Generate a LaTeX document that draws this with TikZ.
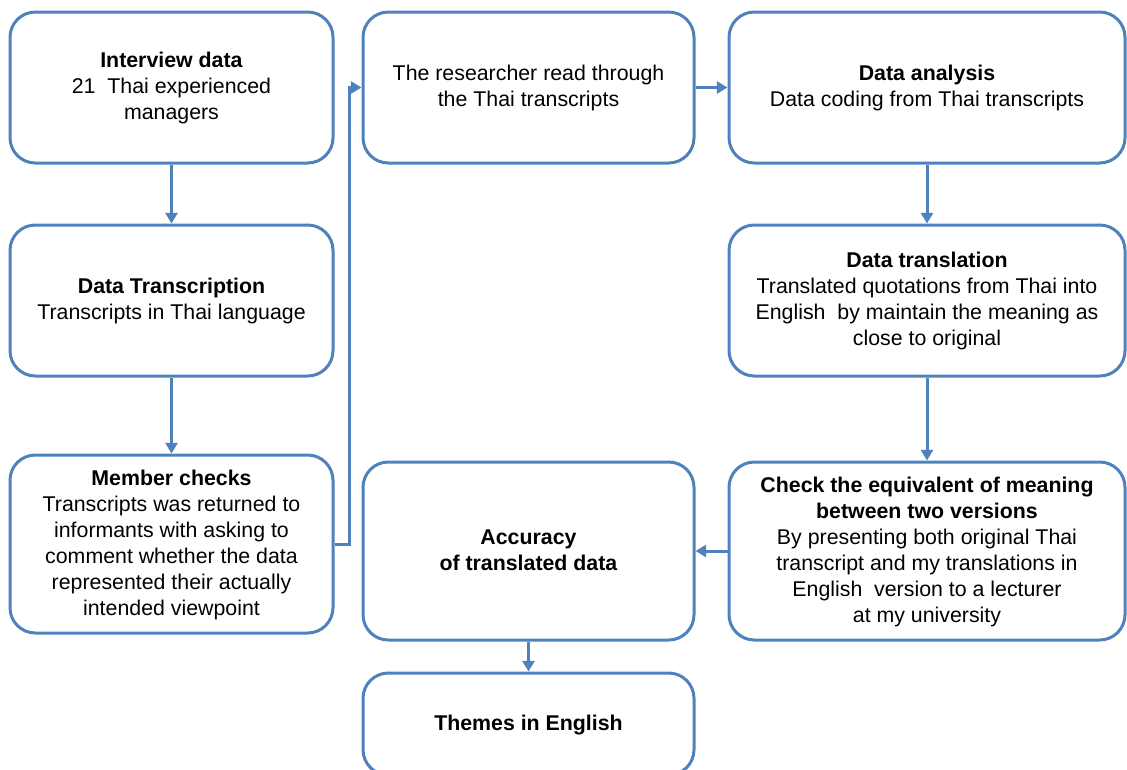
\documentclass[tikz,border=0pt]{standalone}
\usepackage{fontspec}
\setmainfont{Liberation Sans}
\usetikzlibrary{arrows.meta}
\definecolor{lineblue}{RGB}{79,129,189}
\begin{document}
\begin{tikzpicture}[x=0.75pt,y=-0.75pt,
  box/.style={draw=lineblue,line width=2.25pt,rounded corners=19pt,align=center,
    font=\fontsize{16}{19.5}\selectfont,inner sep=0pt,text depth=2pt},
  arr/.style={draw=lineblue,line width=2.25pt,-{Triangle[length=8pt,width=9pt]}}]
\useasboundingbox (0,0) rectangle (1127,769);
\clip (0,0) rectangle (1127,769);
\node[box,minimum width=242.25pt,minimum height=113.25pt] (A) at (171.5,87.5)
  {\textbf{Interview data}\\21\ \ Thai experienced\\managers};
\node[box,minimum width=242.25pt,minimum height=113.25pt] (B) at (171.5,300.5)
  {\textbf{Data Transcription}\\Transcripts in Thai language};
\node[box,minimum width=242.25pt,minimum height=133.5pt] (C) at (171.5,544)
  {\textbf{Member checks}\\Transcripts was returned to\\informants with asking to\\comment whether the data\\represented their actually\\intended viewpoint};
\node[box,minimum width=248.25pt,minimum height=113.25pt] (D) at (528.5,87.5)
  {The researcher read through\\the Thai transcripts};
\node[box,minimum width=297pt,minimum height=113.25pt] (E) at (927,87.5)
  {\textbf{Data analysis}\\Data coding from Thai transcripts};
\node[box,minimum width=297pt,minimum height=113.25pt] (F) at (927,300.5)
  {\textbf{Data translation}\\Translated quotations from Thai into\\English\ \ by maintain the meaning as\\close to original};
\node[box,minimum width=297pt,minimum height=133.5pt] (G) at (927,551)
  {\textbf{Check the equivalent of meaning}\\\textbf{between two versions}\\By presenting both original Thai\\transcript and my translations in\\English\ \ version to a lecturer\\at my university};
\node[box,minimum width=248.25pt,minimum height=133.5pt] (H) at (528.5,551)
  {\textbf{Accuracy}\\\textbf{of translated data}};
\node[box,minimum width=248.25pt,minimum height=76.5pt] (I) at (528.5,724)
  {\textbf{Themes in English}};
\draw[arr] (A) -- (B);
\draw[arr] (B) -- (C);
\draw[arr] (C.east) -- ++(15,0) |- (D.west);
\draw[arr] (D) -- (E);
\draw[arr] (E) -- (F);
\draw[arr] (F) -- (G);
\draw[arr] (G) -- (H);
\draw[arr] (H) -- (I);
\end{tikzpicture}
\end{document}
